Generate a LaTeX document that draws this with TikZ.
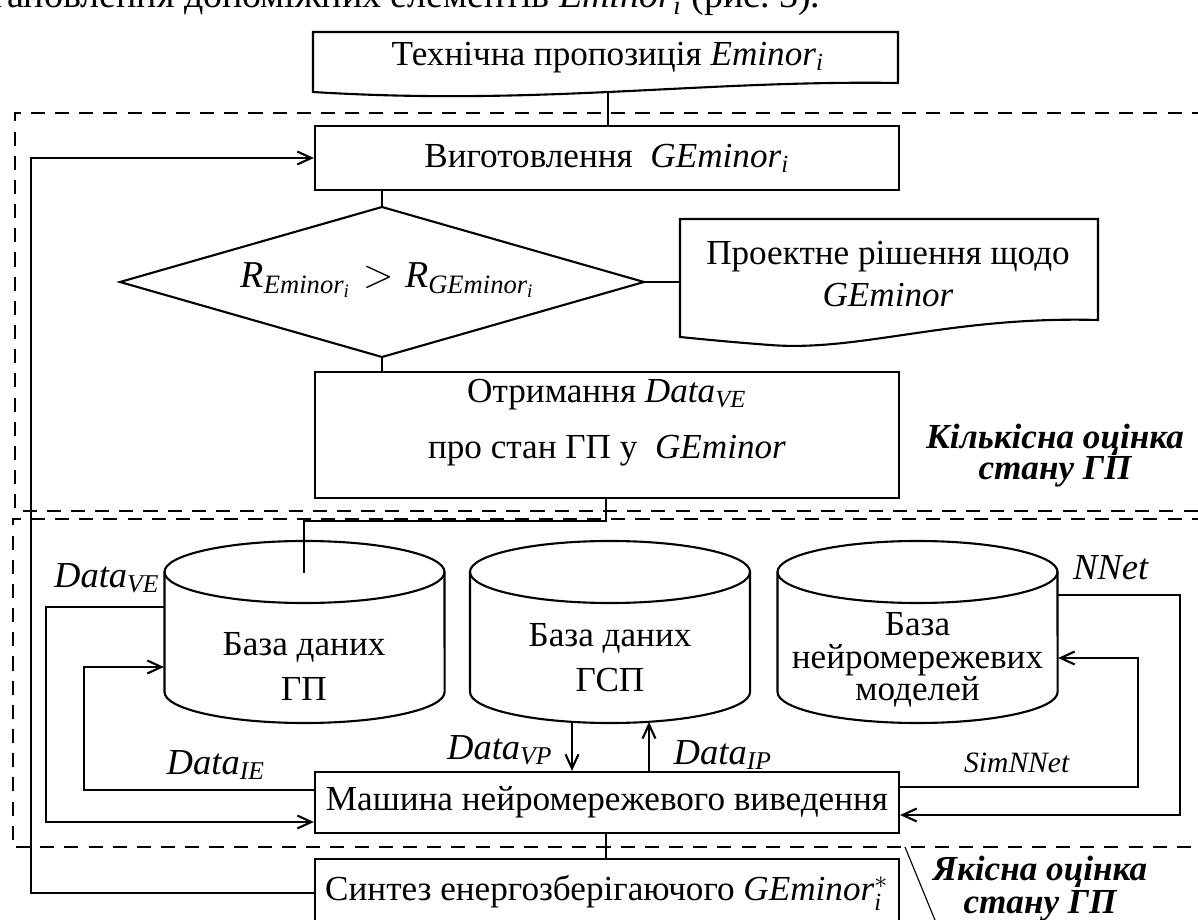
\documentclass[tikz,border=0pt]{standalone}
\usepackage{amsmath}
\usepackage{fontspec}
\setmainfont{Liberation Serif}
\usetikzlibrary{arrows.meta}
\newcommand{\mycyl}[1]{%
  \draw[line width=0.75pt,fill=white] (#1,572) ellipse [x radius=1.75cm, y radius=0.3875cm];
  \draw[line width=0.75pt] (#1-140,572) -- (#1-140,692) arc[start angle=180, end angle=360, x radius=1.75cm, y radius=0.3875cm] -- (#1+140,572);}
\begin{document}
\begin{tikzpicture}[x=0.0125cm,y=-0.0125cm,
  every node/.style={font=\fontsize{12.5}{15}\selectfont},
  box/.style={draw, line width=0.75pt, minimum width=7.3cm, inner sep=0pt, align=center},
  conn/.style={line width=0.75pt},
  arr/.style={line width=0.75pt, -{Straight Barb[length=5pt,width=4.6pt,line width=0.75pt]}},
  frame/.style={line width=0.9pt, dash pattern=on 5pt off 3.6pt},
  lbl/.style={inner sep=0pt, font=\fontsize{13}{15}\selectfont},
  note/.style={font=\fontsize{12.5}{10.5}\selectfont\bfseries\itshape, align=center, inner sep=0pt}
]
\useasboundingbox (0,0) rectangle (1198,920);
\clip (0,0) rectangle (1198,920);

% fragment of the page text above
\node[anchor=base east, inner sep=0pt, font=\fontsize{13.5}{15}\selectfont] (frag) at (821,8) {становлення допоміжних елементів \textit{Eminor}$_{\textit{i}}$ (рис.~3).};

% top document
\draw[line width=0.75pt] (313,32) -- (898,32) -- (898,83) .. controls (700,80) and (540,106) .. (313,92) -- cycle;
\node (tp) at (608,58) {Технічна пропозиція \textit{Eminor}$_{\textit{i}}$};
\coordinate (tpb) at (608,92);

% frames
\draw[frame] (1230,113) -- (15,113) -- (15,511) -- (1230,511);
\draw[frame] (1230,519) -- (13,519) -- (13,847) -- (1230,847);

% manufacture
\node[box, minimum height=0.8cm] (vig) at (607,158) {Виготовлення\enspace \textit{GEminor}$_{\textit{i}}$};
\draw[conn] (tpb) -- (tpb |- vig.north);

% decision
\draw[line width=0.75pt] (382,207) coordinate (diaN) -- (644,282) coordinate (diaE) -- (382,357) coordinate (diaS) -- (120,282) coordinate (diaW) -- cycle;
\node[lbl] (dia) at (388,280) {\fontsize{13.5}{15}\selectfont$\textit{R}_{\textit{Eminor}_{\textit{i}}} > \textit{R}_{\textit{GEminor}_{\textit{i}}}$};
\draw[conn] (diaN) -- (diaN |- vig.south);

% project decision document
\draw[line width=0.75pt] (680,219) -- (1098,219) -- (1098,320) .. controls (950,316) and (860,352) .. (770,345) .. controls (730,342) and (700,339) .. (680,337) -- cycle;
\node[align=center] (doc) at (888,274) {Проектне рішення щодо\\ \textit{GEminor}};
\coordinate (docW) at (680,282);
\draw[conn] (diaE) -- (docW);

% obtaining data
\node[box, minimum height=1.575cm] (otr) at (607,435) {};
\node[align=center, font=\fontsize{12.5}{20}\selectfont] (otrt) at (607,423) {Отримання \textit{Data}$_{\textit{VE}}$\\ про стан ГП у\enspace \textit{GEminor}};
\draw[conn] (diaS) -- (diaS |- otr.north);

\node[note, font=\fontsize{12.5}{11}\selectfont\bfseries\itshape] (kil) at (1055,456) {Кількісна оцінка\\стану ГП};

% databases
\mycyl{304.5}
\mycyl{610}
\mycyl{917.5}
\node[minimum width=3.5cm, minimum height=2.275cm, inner sep=0pt] (gp) at (304.5,632) {};
\node[minimum width=3.5cm, minimum height=2.275cm, inner sep=0pt] (gsp) at (610,632) {};
\node[minimum width=3.5cm, minimum height=2.275cm, inner sep=0pt] (nn) at (917.5,632) {};
\node[align=center] (gpt) at (304,666) {База даних\\[1pt]ГП};
\node[align=center] (gspt) at (610,658) {База даних\\[1pt]ГСП};
\node[align=center, font=\fontsize{12.5}{11.6}\selectfont] (nnt) at (917.5,660) {База\\нейромережевих\\моделей};

% data from obtaining box into GP database
\coordinate (bend1) at (304,521);
\coordinate (gpin) at (304,573);
\draw[conn] (otr.south -| 606,0) -- (606,521) -- (bend1) -- (gpin);

% inference machine and synthesis
\node[box, minimum height=0.7625cm] (mash) at (607,802.5) {Машина нейромережевого виведення};
\node[box, minimum height=0.85cm] (sint) at (607,893) {Синтез енергозберігаючого \textit{GEminor}$_{\textit{i}}^{*}$};
\draw[conn] (mash.south -| 606,0) -- (sint.north -| 606,0);

% coordinates for levels
\coordinate (yVE) at (0,607);
\coordinate (yVEm) at (0,822);
\coordinate (yIE) at (0,790);
\coordinate (yIEg) at (0,667);
\coordinate (yNN) at (0,595);
\coordinate (yNNm) at (0,815);
\coordinate (ySim) at (0,787);
\coordinate (ySimg) at (0,658);
\coordinate (xVP) at (572,0);
\coordinate (xIP) at (649,0);
\coordinate (gspb) at (0,722);

\draw[arr] (gp.west |- yVE) -- (46,607) -- (46,822) -- (mash.west |- yVEm);
\draw[arr] (mash.west |- yIE) -- (84,790) -- (84,667) -- (gp.west |- yIEg);
\draw[arr] (xVP |- gspb) -- (xVP |- mash.north);
\draw[arr] (xIP |- mash.north) -- (xIP |- gspb);
\draw[arr] (nn.east |- yNN) -- (1180,595) -- (1180,815) -- (mash.east |- yNNm);
\draw[arr] (mash.east |- ySim) -- (1138,787) -- (1138,658) -- (nn.east |- ySimg);
\draw[arr] (sint.west) -- (31,893) -- (31,158) -- (vig.west);

% labels
\node[lbl] (lVE) at (107,578) {\textit{Data}$_{\textit{VE}}$};
\node[lbl] (lIE) at (216,765) {\textit{Data}$_{\textit{IE}}$};
\node[lbl] (lVP) at (500,750) {\textit{Data}$_{\textit{VP}}$};
\node[lbl] (lIP) at (723,755) {\textit{Data}$_{\textit{IP}}$};
\node[lbl] (lNN) at (1111,568) {\textit{NNet}};
\node[lbl, font=\fontsize{10.5}{12}\selectfont] (lSim) at (1017,763) {\textit{SimNNet}};

% quality note
\coordinate (diagA) at (905,847);
\coordinate (diagB) at (937,925);
\draw[line width=0.4pt] (diagA) -- (diagB);
\node[note, font=\fontsize{12.5}{9.8}\selectfont\bfseries\itshape] (yak) at (1040,889) {Якісна оцінка\\стану ГП};
\end{tikzpicture}
\end{document}
